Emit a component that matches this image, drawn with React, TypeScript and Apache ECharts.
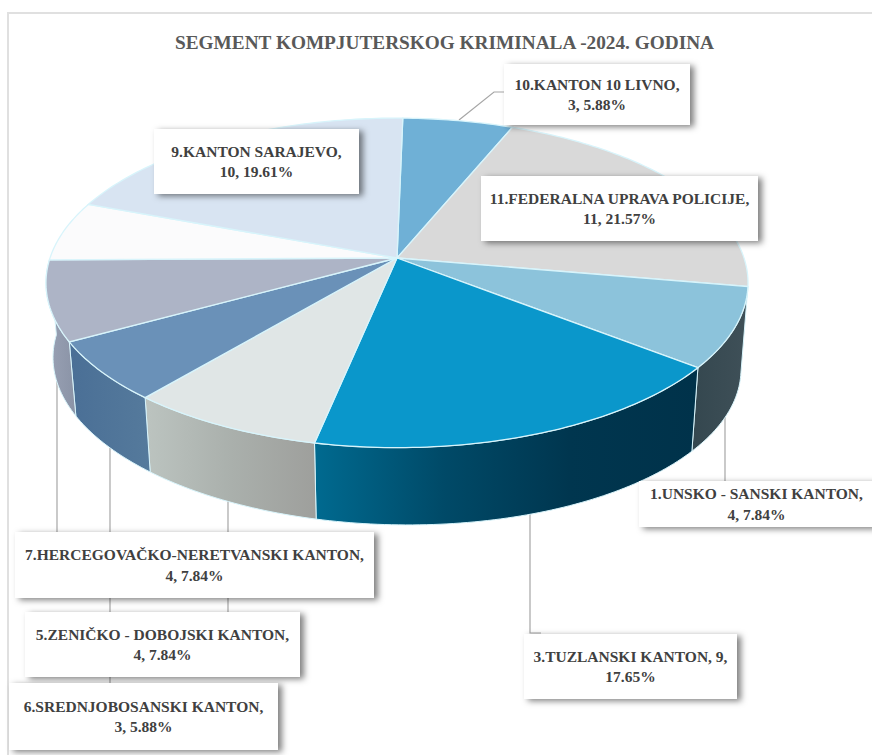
import React, { useEffect, useRef } from "react";
import * as echarts from "echarts";

const titleText = "SEGMENT KOMPJUTERSKOG KRIMINALA -2024. GODINA";
// Slices clockwise from 12 o'clock
const sliceNames = ["10", "11", "1", "3", "5", "6", "7", "8", "9"];
const sliceValues = [3, 11, 4, 9, 4, 3, 4, 3, 10];
const sliceColors = ["#6fb0d6", "#d9d9d9", "#8cc3db", "#0a97cb", "#e0e6e6", "#6a91b8", "#adb4c6", "#fbfbfc", "#d8e4f2"];
const wallStops: Record<string, string[]> = {
  "1": ["#34474f", "#3f5058"],
  "3": ["#006a90", "#004a68", "#00364f", "#00324a"],
  "5": ["#bcc4c0", "#aab0ac", "#9e9f9c"],
  "6": ["#4a6f96", "#557a9c"],
  "7": ["#9aa2b5", "#8a93a6"],
};
const labelTexts: Record<string, string> = {
  "10": "10.KANTON 10 LIVNO,\n3, 5.88%",
  "11": "11.FEDERALNA UPRAVA POLICIJE,\n11, 21.57%",
  "1": "1.UNSKO - SANSKI KANTON,\n4, 7.84%",
  "3": "3.TUZLANSKI KANTON, 9,\n17.65%",
  "5": "5.ZENIČKO - DOBOJSKI KANTON,\n4, 7.84%",
  "6": "6.SREDNJOBOSANSKI KANTON,\n3, 5.88%",
  "7": "7.HERCEGOVAČKO-NERETVANSKI KANTON,\n4, 7.84%",
  "9": "9.KANTON SARAJEVO,\n10, 19.61%",
};
// label box: x0, y0, x1, y1
const labelBoxes: Record<string, number[]> = {
  "10": [504, 64, 690, 125],
  "11": [481, 176, 758, 241],
  "1": [639, 481, 874, 527],
  "3": [524, 634, 737, 699],
  "5": [25, 612, 300, 677],
  "6": [9, 683, 278, 750],
  "7": [15, 532, 374, 598],
  "9": [154, 129, 359, 194],
};
const leaderLines: Record<string, number[][]> = {
  "10": [[459, 120], [494, 92], [504, 92]],
  "1": [[725, 400], [725, 481]],
  "3": [[530, 510], [530, 633], [541, 633]],
  "5": [[228, 500], [228, 612]],
  "6": [[110, 445], [110, 683]],
  "7": [[57, 375], [57, 532]],
};

// perspective projection of the pie disc
const CX = 397, CY = 258, AX = 347, AY = 161, PERSP = 0.151, FIRST_ANGLE = 1.1;
const BOTTOM_DY = 81, BOTTOM_TILT = 6, BOTTOM_S = 0.98;
const total = sliceValues.reduce((a, b) => a + b, 0);
const spans = sliceValues.map((_, i) => {
  const before = sliceValues.slice(0, i).reduce((a, b) => a + b, 0);
  return [FIRST_ANGLE + (before / total) * 360, FIRST_ANGLE + ((before + sliceValues[i]) / total) * 360];
});
function rim(deg: number, bottom = false): number[] {
  const t = (deg * Math.PI) / 180;
  const x = Math.sin(t), y = -Math.cos(t);
  const w = 1 - PERSP * y;
  const s = bottom ? BOTTOM_S : 1;
  const dy = bottom ? BOTTOM_DY + BOTTOM_TILT * x : 0;
  return [CX + (s * AX * x) / w, CY + dy + (s * AY * y) / w];
}
function arc(a: number, b: number, bottom = false): number[][] {
  const n = Math.max(2, Math.ceil(b - a));
  const pts: number[][] = [];
  for (let i = 0; i <= n; i++) pts.push(rim(a + ((b - a) * i) / n, bottom));
  return pts;
}

const EDGE = "#d8f4fb";
const FONT = "'Liberation Serif', serif";

const rows = sliceNames.map((n, i) => [i, sliceValues[i]]);

function leaderItem(params: any) {
  const pts = leaderLines[sliceNames[params.dataIndex]];
  if (!pts) return null as any;
  return { type: "polyline", shape: { points: pts }, style: { stroke: "#a6a6a6", lineWidth: 1.2, fill: "none" }, silent: true };
}
function wallItem(params: any) {
  const i = params.dataIndex;
  const stops = wallStops[sliceNames[i]];
  if (!stops) return null as any;
  const [a, b] = spans[i];
  const pts = arc(a, b).concat(arc(a, b, true).reverse());
  return {
    type: "polygon",
    shape: { points: pts },
    style: {
      fill: new echarts.graphic.LinearGradient(0, 0, 1, 0, stops.map((c, k) => ({ offset: k / (stops.length - 1), color: c }))),
      stroke: EDGE,
      lineWidth: 1,
    },
    silent: true,
  };
}
function topItem(params: any) {
  const i = params.dataIndex;
  const [a, b] = spans[i];
  return {
    type: "polygon",
    shape: { points: [[CX, CY]].concat(arc(a, b)) },
    style: { fill: sliceColors[i], stroke: EDGE, lineWidth: 1.3 },
    silent: true,
  };
}
function labelItem(params: any) {
  const name = sliceNames[params.dataIndex];
  const box = labelBoxes[name];
  if (!box) return null as any;
  const [x0, y0, x1, y1] = box;
  return {
    type: "group",
    silent: true,
    children: [
      {
        type: "rect",
        shape: { x: x0, y: y0, width: x1 - x0, height: y1 - y0 },
        style: { fill: "#ffffff", shadowBlur: 6, shadowOffsetX: 4, shadowOffsetY: 2, shadowColor: "rgba(0,0,0,0.5)" },
      },
      {
        type: "text",
        x: (x0 + x1) / 2,
        y: (y0 + y1) / 2,
        style: {
          text: labelTexts[name],
          fill: "#404040",
          font: `bold 15.5px ${FONT}`,
          lineHeight: 20.5,
          align: "center",
          verticalAlign: "middle",
        },
      },
    ],
  };
}

function customSeries(renderItem: any, z: number) {
  return { type: "custom", coordinateSystem: "none", renderItem, data: rows, z, silent: true, animation: false, clip: false };
}

export default function App() {
  const ref = useRef<HTMLDivElement>(null);
  useEffect(() => {
    const chart = echarts.init(ref.current!, undefined, { renderer: "svg" });
    chart.setOption({
      animation: false,
      backgroundColor: "#ffffff",
      title: {
        text: titleText,
        left: 170,
        top: 28,
        textStyle: { fontFamily: FONT, fontWeight: "bold", fontSize: 19.3, color: "#595959" },
      },
      graphic: [
        { type: "rect", z: -1, shape: { x: 8, y: 13, width: 900, height: 800 }, style: { fill: "#ffffff", stroke: "#e0e0e0", lineWidth: 2 }, silent: true },
      ],
      series: [
        customSeries(leaderItem, 1),
        customSeries(wallItem, 2),
        customSeries(topItem, 3),
        customSeries(labelItem, 4),
      ],
    });
    return () => chart.dispose();
  }, []);
  return <div ref={ref} style={{ position: "fixed", left: 0, top: 0, width: 872, height: 755 }} />;
}
